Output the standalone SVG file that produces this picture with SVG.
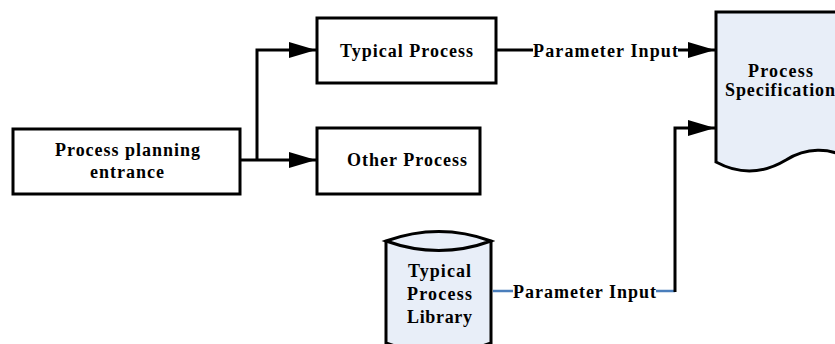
<svg xmlns="http://www.w3.org/2000/svg" width="835" height="344" viewBox="0 0 835 344">
<style>
.box{fill:#fff;stroke:#000;stroke-width:3}
.blue{fill:#E8EEF8;stroke:#000;stroke-width:3}
.t{font-family:"Liberation Serif","Times New Roman",serif;font-weight:bold;font-size:18px;fill:#000;text-anchor:middle}
.ln{fill:none;stroke:#000;stroke-width:3}
.bl{fill:none;stroke:#4A7EBB;stroke-width:2.5}
</style>
<defs>
<marker id="ah" viewBox="0 0 27 16" markerWidth="27" markerHeight="16" refX="27" refY="8" orient="auto" markerUnits="userSpaceOnUse">
<path d="M0,0 L27,8 L0,16 z" fill="#000"/>
</marker>
</defs>
<rect width="835" height="344" fill="#fff"/>
<g id="connectors">
<path class="ln" d="M240,160 H316" marker-end="url(#ah)"/>
<path class="ln" d="M257,160 V50 H316" marker-end="url(#ah)"/>
<path class="ln" d="M496,50 H533"/>
<path class="ln" d="M678,50 H715" marker-end="url(#ah)"/>
<path class="bl" d="M493,291 H513"/>
<path class="bl" d="M656,291 H675"/>
<path class="ln" d="M675,292 V128 H715" marker-end="url(#ah)"/>
<text class="t" x="605.5" y="57" textLength="145" lengthAdjust="spacing">Parameter Input</text>
<text class="t" x="584.5" y="298" textLength="143" lengthAdjust="spacing">Parameter Input</text>
</g>
<g id="entrance">
<rect class="box" x="13" y="129" width="227" height="65"/>
<text class="t" x="127.5" y="156" textLength="145" lengthAdjust="spacing">Process planning</text>
<text class="t" x="127" y="178" textLength="74" lengthAdjust="spacing">entrance</text>
</g>
<g id="typical">
<rect class="box" x="317" y="18" width="179" height="65"/>
<text class="t" x="406.5" y="57" textLength="133" lengthAdjust="spacing">Typical Process</text>
</g>
<g id="other">
<rect class="box" x="317" y="128" width="163" height="66"/>
<text class="t" x="407" y="166" textLength="120" lengthAdjust="spacing">Other Process</text>
</g>
<g id="spec">
<path class="blue" d="M716,12 H850 V160 C830,146 805,148 786,160 C766,172 742,176 716,162 Z"/>
<text class="t" x="780.5" y="77" textLength="65" lengthAdjust="spacing">Process</text>
<text class="t" x="780" y="96" textLength="110" lengthAdjust="spacing">Specification</text>
</g>
<g id="library">
<path class="blue" d="M386,241 V343 Q439,362 491,343 V241"/>
<path class="blue" d="M386,241 Q439,222 491,241 Q439,260 386,241 Z"/>
<text class="t" x="439.5" y="277" textLength="63" lengthAdjust="spacing">Typical</text>
<text class="t" x="439.5" y="300" textLength="65" lengthAdjust="spacing">Process</text>
<text class="t" x="439.5" y="323" textLength="65" lengthAdjust="spacing">Library</text>
</g>
</svg>
